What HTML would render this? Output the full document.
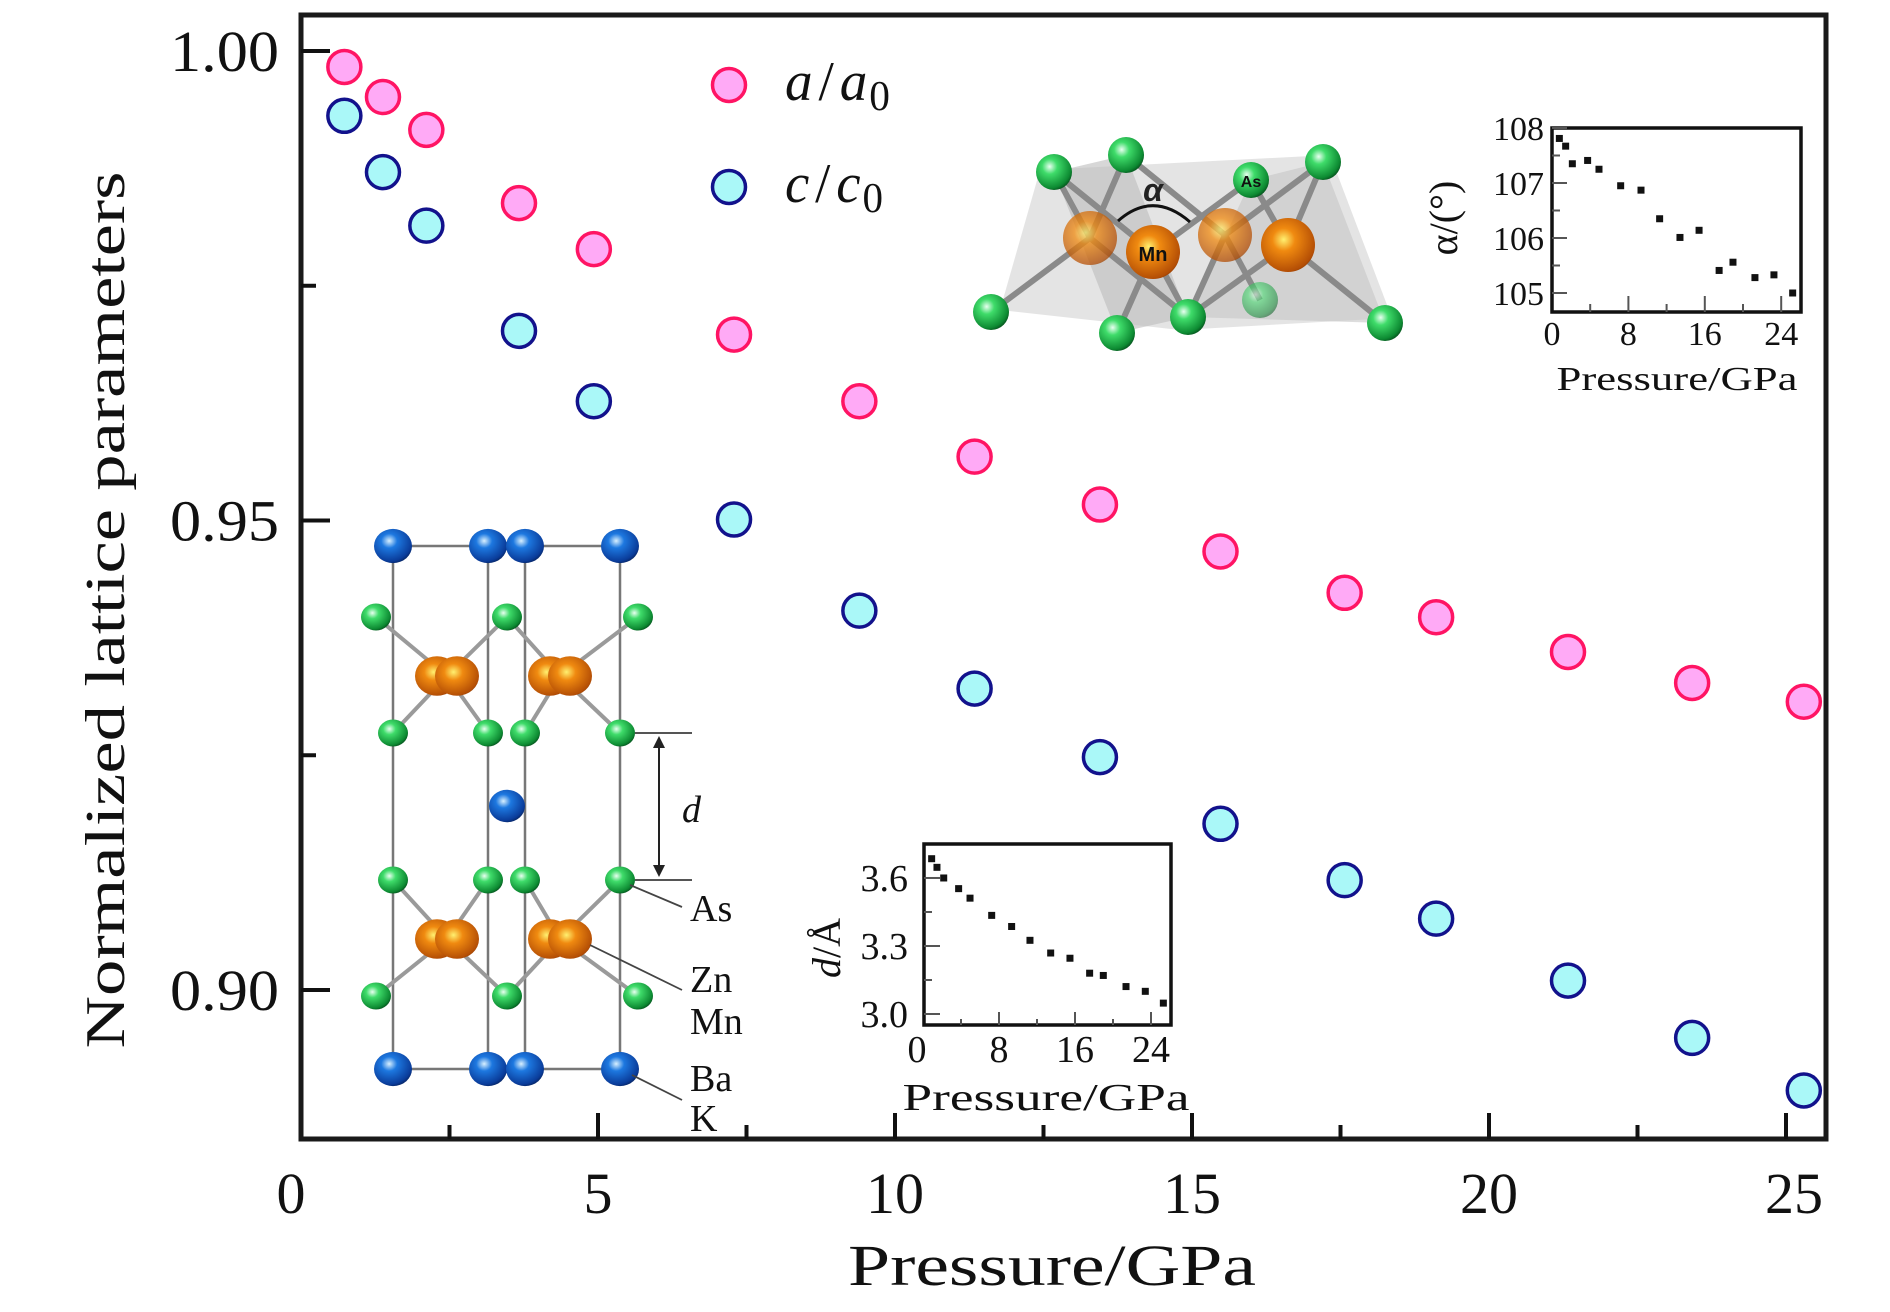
<!DOCTYPE html>
<html><head><meta charset="utf-8"><style>
html,body{margin:0;padding:0;background:#fff;}
svg{display:block;font-family:"Liberation Serif",serif;}
</style></head><body>
<svg id="chart" width="1890" height="1312" viewBox="0 0 1890 1312" xmlns="http://www.w3.org/2000/svg">
<defs>
<radialGradient id="gGreen" cx="0.38" cy="0.35" r="0.7"><stop offset="0" stop-color="#e8fff0"/><stop offset="0.3" stop-color="#3fdc6a"/><stop offset="0.85" stop-color="#0d8a32"/><stop offset="1" stop-color="#06501d"/></radialGradient>
<radialGradient id="gBlue" cx="0.4" cy="0.35" r="0.7"><stop offset="0" stop-color="#d8f0ff"/><stop offset="0.3" stop-color="#1d78e0"/><stop offset="0.85" stop-color="#0a3c9a"/><stop offset="1" stop-color="#06225c"/></radialGradient>
<radialGradient id="gOrange" cx="0.42" cy="0.4" r="0.7"><stop offset="0" stop-color="#fff070"/><stop offset="0.3" stop-color="#f08a10"/><stop offset="0.85" stop-color="#b44e05"/><stop offset="1" stop-color="#6e2e02"/></radialGradient>
</defs>
<g id="structures"></g>
<g id="main"></g>
<g id="insetA"></g>
<g id="insetD"></g>
</svg>
<script>
// ---- main chart data ----
const pressures = [0.73, 1.38, 2.11, 3.67, 4.93, 7.29, 9.40, 11.34, 13.45, 15.48, 17.57, 19.11, 21.33, 23.42, 25.3];
const aRatio = [0.9983, 0.9951, 0.9916, 0.9838, 0.9789, 0.9698, 0.9627, 0.9568, 0.9517, 0.9467, 0.9423, 0.9397, 0.9360, 0.9327, 0.9307];
const cRatio = [0.9931, 0.9871, 0.9814, 0.9702, 0.9627, 0.9501, 0.9404, 0.9321, 0.9248, 0.9177, 0.9117, 0.9076, 0.9010, 0.8949, 0.8893];
const xTicks = [0, 5, 10, 15, 20, 25];
const xTickLabels = ["0", "5", "10", "15", "20", "25"];
const yTicks = [0.90, 0.95, 1.00];
const yTickLabels = ["0.90", "0.95", "1.00"];
// ---- alpha inset ----
const alphaP = [0.77, 1.43, 2.13, 3.73, 4.92, 7.19, 9.32, 11.27, 13.4, 15.4, 17.5, 18.95, 21.25, 23.24, 25.2];
const alphaVal = [107.81, 107.67, 107.35, 107.41, 107.25, 106.95, 106.87, 106.35, 106.01, 106.14, 105.41, 105.56, 105.28, 105.33, 105.0];
const alphaYTicks = [105, 106, 107, 108];
const insetXTicks = [0, 8, 16, 24];
// ---- d inset ----
const dP = [0.91, 1.47, 2.18, 3.75, 4.95, 7.23, 9.33, 11.26, 13.44, 15.47, 17.54, 18.98, 21.37, 23.4, 25.3];
const dVal = [3.685, 3.647, 3.600, 3.553, 3.511, 3.435, 3.386, 3.325, 3.269, 3.246, 3.180, 3.170, 3.121, 3.100, 3.048];
const dYTicks = [3.0, 3.3, 3.6];
const dYTickLabels = ["3.0", "3.3", "3.6"];

const NS = "http://www.w3.org/2000/svg";
function mk(parent, tag, attrs, text){
  const e = document.createElementNS(NS, tag);
  for (const k in attrs) e.setAttribute(k, attrs[k]);
  if (text !== undefined) e.textContent = text;
  parent.appendChild(e);
  return e;
}
const X0 = 301, PXX = 59.4;
const Y100 = 51, PXY = 9390;
const xs = p => X0 + p * PXX;
const ys = v => Y100 - (v - 1.0) * PXY;

const main = document.getElementById('main');
const frame = mk(main, 'rect', {x:301, y:15, width:1525, height:1124, fill:'none', stroke:'#1a1a1a', 'stroke-width':5});


for (let i = 0; i < xTicks.length; i++) {
  const x = xs(xTicks[i]);
  if (i > 0) {
    const t = mk(main, 'line', {x1:x, y1:1139, x2:x, y2:1113, stroke:'#111', 'stroke-width':4});
    
    
  }
  const lb = mk(main, 'text', {x:x + (i===0? -10 : (i===5?8:0)), y:1213, 'font-size':58, 'text-anchor':'middle', fill:'#111'}, xTickLabels[i]);
  
  
}
for (let i = 0; i < xTicks.length - 1; i++) {
  const x = xs((xTicks[i] + xTicks[i+1]) / 2);
  const t = mk(main, 'line', {x1:x, y1:1139, x2:x, y2:1125, stroke:'#111', 'stroke-width':4});
  
  
}
for (let i = 0; i < yTicks.length; i++) {
  const y = ys(yTicks[i]);
  const t = mk(main, 'line', {x1:301, y1:y, x2:330, y2:y, stroke:'#111', 'stroke-width':4});
  
  
  const lb = mk(main, 'text', {x:279, y:y + 20, 'font-size':58, 'text-anchor':'end', fill:'#111', textLength:109, lengthAdjust:'spacingAndGlyphs'}, yTickLabels[i]);
  
  
}
for (let i = 0; i < yTicks.length - 1; i++) {
  const y = ys((yTicks[i] + yTicks[i+1]) / 2);
  const t = mk(main, 'line', {x1:301, y1:y, x2:316, y2:y, stroke:'#111', 'stroke-width':4});
  
  
}
const yt = mk(main, 'text', {x:0, y:0, 'font-size':56, 'text-anchor':'middle', fill:'#111', transform:'translate(124,610) rotate(-90)', textLength:877, lengthAdjust:'spacingAndGlyphs'}, 'Normalized lattice parameters');


const xt = mk(main, 'text', {x:1052, y:1285, 'font-size':58, 'text-anchor':'middle', fill:'#111', textLength:408, lengthAdjust:'spacingAndGlyphs'}, 'Pressure/GPa');


for (let i = 0; i < pressures.length; i++) {
  const c = mk(main, 'circle', {cx:xs(pressures[i]), cy:ys(aRatio[i]), r:16.5, fill:'#ffaaf6', stroke:'#ff1464', 'stroke-width':3.5});
  
  
}
for (let i = 0; i < pressures.length; i++) {
  const c = mk(main, 'circle', {cx:xs(pressures[i]), cy:ys(cRatio[i]), r:16.5, fill:'#aaf8f8', stroke:'#12128c', 'stroke-width':3.5});
  
  
}
const lg = mk(main, 'g', {});


const l1 = mk(lg, 'circle', {cx:729, cy:85, r:16.5, fill:'#ffaaf6', stroke:'#ff1464', 'stroke-width':3.5});


const t1 = mk(lg, 'text', {x:785, y:100, 'font-size':56, 'font-style':'italic', fill:'#111', textLength:105, lengthAdjust:'spacingAndGlyphs'});


t1.innerHTML = 'a<tspan font-style="normal" dx="6">/</tspan><tspan dx="6">a</tspan><tspan font-style="normal" font-size="42" dy="10" dx="2">0</tspan>';
const l2 = mk(lg, 'circle', {cx:729, cy:187, r:16.5, fill:'#aaf8f8', stroke:'#12128c', 'stroke-width':3.5});


const t2 = mk(lg, 'text', {x:785, y:202, 'font-size':56, 'font-style':'italic', fill:'#111', textLength:98, lengthAdjust:'spacingAndGlyphs'});


t2.innerHTML = 'c<tspan font-style="normal" dx="6">/</tspan><tspan dx="6">c</tspan><tspan font-style="normal" font-size="42" dy="10" dx="2">0</tspan>';

// ---- alpha inset ----
const gA = document.getElementById('insetA');


const AX0 = 1552, APX = 9.55, AY105 = 293, APY = 55;
const axs = p => AX0 + p * APX;
const ays = v => AY105 - (v - 105) * APY;
const aBox = mk(gA, 'rect', {x:1552, y:128, width:249, height:184, fill:'none', stroke:'#111', 'stroke-width':3.5});


for (let i = 0; i < alphaYTicks.length; i++) {
  const y = ays(alphaYTicks[i]);
  const t = mk(gA, 'line', {x1:1552, y1:y, x2:1567, y2:y, stroke:'#555', 'stroke-width':2});
  
  
  if (i < alphaYTicks.length - 1) {
    const m = mk(gA, 'line', {x1:1552, y1:ays(alphaYTicks[i] + 0.5), x2:1560, y2:ays(alphaYTicks[i] + 0.5), stroke:'#555', 'stroke-width':2});
    
    
  }
  const lb = mk(gA, 'text', {x:1544, y:y + 12, 'font-size':34, 'text-anchor':'end', fill:'#111'}, String(alphaYTicks[i]));
  
  
}
for (let p = 4; p <= 24; p += 4) {
  const x = axs(p);
  const t = mk(gA, 'line', {x1:x, y1:312, x2:x, y2:(p % 8 === 0 ? 296 : 304), stroke:'#555', 'stroke-width':2});
  
  
}
for (let i = 0; i < insetXTicks.length; i++) {
  const lb = mk(gA, 'text', {x:axs(insetXTicks[i]), y:345, 'font-size':34, 'text-anchor':'middle', fill:'#111'}, String(insetXTicks[i]));
  
  
}
const axT = mk(gA, 'text', {x:1677, y:390, 'font-size':34, 'text-anchor':'middle', fill:'#111', textLength:241, lengthAdjust:'spacingAndGlyphs'}, 'Pressure/GPa');


const ayT = mk(gA, 'text', {x:0, y:0, 'font-size':40, 'text-anchor':'middle', fill:'#111', transform:'translate(1457,218) rotate(-90)'}, 'α/(°)');


for (let i = 0; i < alphaP.length; i++) {
  const r = mk(gA, 'rect', {x:axs(alphaP[i]) - 3.5, y:ays(alphaVal[i]) - 3.5, width:7, height:7, fill:'#111'});
  
  
}

// ---- d inset ----
const gD = document.getElementById('insetD');


const DX0 = 923, DPX = 9.5, DY30 = 1014, DPY = 226.7;
const dxs = p => DX0 + p * DPX;
const dys = v => DY30 - (v - 3.0) * DPY;
const dBox = mk(gD, 'rect', {x:924, y:844, width:247, height:181, fill:'#fff', stroke:'#111', 'stroke-width':3.5});


for (let i = 0; i < dYTicks.length; i++) {
  const y = dys(dYTicks[i]);
  const t = mk(gD, 'line', {x1:924, y1:y, x2:940, y2:y, stroke:'#555', 'stroke-width':2});
  
  
  if (i < dYTicks.length - 1) {
    const m = mk(gD, 'line', {x1:924, y1:dys(dYTicks[i] + 0.15), x2:932, y2:dys(dYTicks[i] + 0.15), stroke:'#555', 'stroke-width':2});
    
    
  }
  const lb = mk(gD, 'text', {x:908, y:y + 13, 'font-size':38, 'text-anchor':'end', fill:'#111'}, dYTickLabels[i]);
  
  
}
for (let p = 4; p <= 24; p += 4) {
  const x = dxs(p);
  const t = mk(gD, 'line', {x1:x, y1:1025, x2:x, y2:(p % 8 === 0 ? 1012 : 1019), stroke:'#555', 'stroke-width':2});
  
  
}
for (let i = 0; i < insetXTicks.length; i++) {
  const lb = mk(gD, 'text', {x:dxs(insetXTicks[i]) - (i===0?6:0), y:1062, 'font-size':38, 'text-anchor':'middle', fill:'#111'}, String(insetXTicks[i]));
  
  
}
const dxT = mk(gD, 'text', {x:1046, y:1110, 'font-size':38, 'text-anchor':'middle', fill:'#111', textLength:287, lengthAdjust:'spacingAndGlyphs'}, 'Pressure/GPa');


const dyT = mk(gD, 'text', {x:0, y:0, 'font-size':40, 'text-anchor':'middle', fill:'#111', transform:'translate(840,948) rotate(-90)'});


dyT.innerHTML = '<tspan font-style="italic">d</tspan>/Å';
for (let i = 0; i < dP.length; i++) {
  const r = mk(gD, 'rect', {x:dxs(dP[i]) - 3.5, y:dys(dVal[i]) - 3.5, width:7, height:7, fill:'#111'});
  
  
}

// ---- crystal structure illustrations ----
const gS = document.getElementById('structures');
const cell = mk(gS, 'g', {});


const colsX = [393, 488, 525, 620];
colsX.forEach(x => mk(cell, 'line', {x1:x, y1:546, x2:x, y2:1069, stroke:'#777', 'stroke-width':2.5}));
[546, 1069].forEach(y => { mk(cell,'line',{x1:393,y1:y,x2:488,y2:y,stroke:'#777','stroke-width':2.5}); mk(cell,'line',{x1:525,y1:y,x2:620,y2:y,stroke:'#777','stroke-width':2.5}); });
const bonds = [[376,617,447,676],[507,617,447,676],[393,733,447,676],[488,733,447,676],[507,617,560,676],[638,617,560,676],[525,733,560,676],[620,733,560,676],
 [393,880,447,939],[488,880,447,939],[376,996,447,939],[507,996,447,939],[525,880,560,939],[620,880,560,939],[507,996,560,939],[638,996,560,939]];
bonds.forEach(b => mk(cell, 'line', {x1:b[0], y1:b[1], x2:b[2], y2:b[3], stroke:'#9a9a9a', 'stroke-width':4}));
const atom = (g, x, y, r, grad) => mk(g, 'ellipse', {cx:x, cy:y, rx:r, ry:r*0.9, fill:'url(#' + grad + ')'});
[[376,617],[507,617],[638,617]].forEach(p => atom(cell, p[0], p[1], 15, 'gGreen'));
[437,457,550,570].forEach(x => atom(cell, x, 676, 22, 'gOrange'));
colsX.forEach(x => atom(cell, x, 733, 15, 'gGreen'));
atom(cell, 507, 806, 18, 'gBlue');
colsX.forEach(x => atom(cell, x, 880, 15, 'gGreen'));
[437,457,550,570].forEach(x => atom(cell, x, 939, 22, 'gOrange'));
[[376,996],[507,996],[638,996]].forEach(p => atom(cell, p[0], p[1], 15, 'gGreen'));
colsX.forEach(x => { atom(cell, x, 546, 19, 'gBlue'); atom(cell, x, 1069, 19, 'gBlue'); });
mk(cell, 'line', {x1:635, y1:733, x2:692, y2:733, stroke:'#555', 'stroke-width':2});
mk(cell, 'line', {x1:635, y1:880, x2:692, y2:880, stroke:'#555', 'stroke-width':2});
mk(cell, 'line', {x1:659, y1:740, x2:659, y2:873, stroke:'#222', 'stroke-width':2});
mk(cell, 'path', {d:'M653 748 L659 736 L665 748 Z M653 865 L659 877 L665 865 Z', fill:'#222'});
mk(cell, 'text', {x:682, y:822, 'font-size':38, 'font-style':'italic', fill:'#111'}, 'd');
mk(cell, 'line', {x1:630, y1:885, x2:682, y2:907, stroke:'#444', 'stroke-width':1.8});
mk(cell, 'line', {x1:590, y1:945, x2:682, y2:990, stroke:'#444', 'stroke-width':1.8});
mk(cell, 'line', {x1:632, y1:1075, x2:682, y2:1100, stroke:'#444', 'stroke-width':1.8});
[['As',921],['Zn',992],['Mn',1034],['Ba',1091],['K',1131]].forEach(l => {
  const t = mk(cell, 'text', {x:690, y:l[1], 'font-size':38, fill:'#111'}, l[0]);
  
  
});

const tet = mk(gS, 'g', {});


mk(tet, 'polygon', {points:'1000,310 1040,170 1330,155 1392,318 1180,330', fill:'#d8d8d8', opacity:0.7});
mk(tet, 'polygon', {points:'1054,172 1126,155 1188,317 1117,333', fill:'#bdbdbd', opacity:0.6});
mk(tet, 'polygon', {points:'1251,180 1323,162 1385,323 1188,317', fill:'#c6c6c6', opacity:0.6});
const tb = [[1090,238,1054,172],[1090,238,1126,155],[1090,238,991,312],[1090,238,1188,317],
 [1153,252,1054,172],[1153,252,1251,180],[1153,252,1117,333],[1153,252,1188,317],
 [1225,235,1126,155],[1225,235,1323,162],[1225,235,1188,317],[1225,235,1260,300],
 [1288,245,1251,180],[1288,245,1323,162],[1288,245,1385,323],[1288,245,1188,317]];
tb.forEach(b => mk(tet, 'line', {x1:b[0], y1:b[1], x2:b[2], y2:b[3], stroke:'#8a8a8a', 'stroke-width':6}));
[[1090,238],[1225,235]].forEach(p => mk(tet,'circle',{cx:p[0],cy:p[1],r:27,fill:'url(#gOrange)',opacity:0.75}));
[[1153,252],[1288,245]].forEach(p => mk(tet,'circle',{cx:p[0],cy:p[1],r:27,fill:'url(#gOrange)'}));
mk(tet, 'circle', {cx:1260, cy:300, r:18, fill:'url(#gGreen)', opacity:0.55});
[[1054,172],[1126,155],[1251,180],[1323,162],[991,312],[1117,333],[1188,317],[1385,323]].forEach(p => mk(tet,'circle',{cx:p[0],cy:p[1],r:18,fill:'url(#gGreen)'}));
mk(tet, 'path', {d:'M1118 221 Q1153 190 1190 222', fill:'none', stroke:'#111', 'stroke-width':3});
mk(tet, 'text', {x:1153, y:201, 'font-size':32, 'font-style':'italic', 'font-weight':'bold', 'text-anchor':'middle', fill:'#222', 'font-family':'Liberation Sans, sans-serif'}, 'α');
mk(tet, 'text', {x:1153, y:261, 'font-size':20, 'font-weight':'bold', 'text-anchor':'middle', fill:'#111', 'font-family':'Liberation Sans, sans-serif'}, 'Mn');
mk(tet, 'text', {x:1251, y:187, 'font-size':16, 'font-weight':'bold', 'text-anchor':'middle', fill:'#111', 'font-family':'Liberation Sans, sans-serif'}, 'As');
</script>
</body></html>
